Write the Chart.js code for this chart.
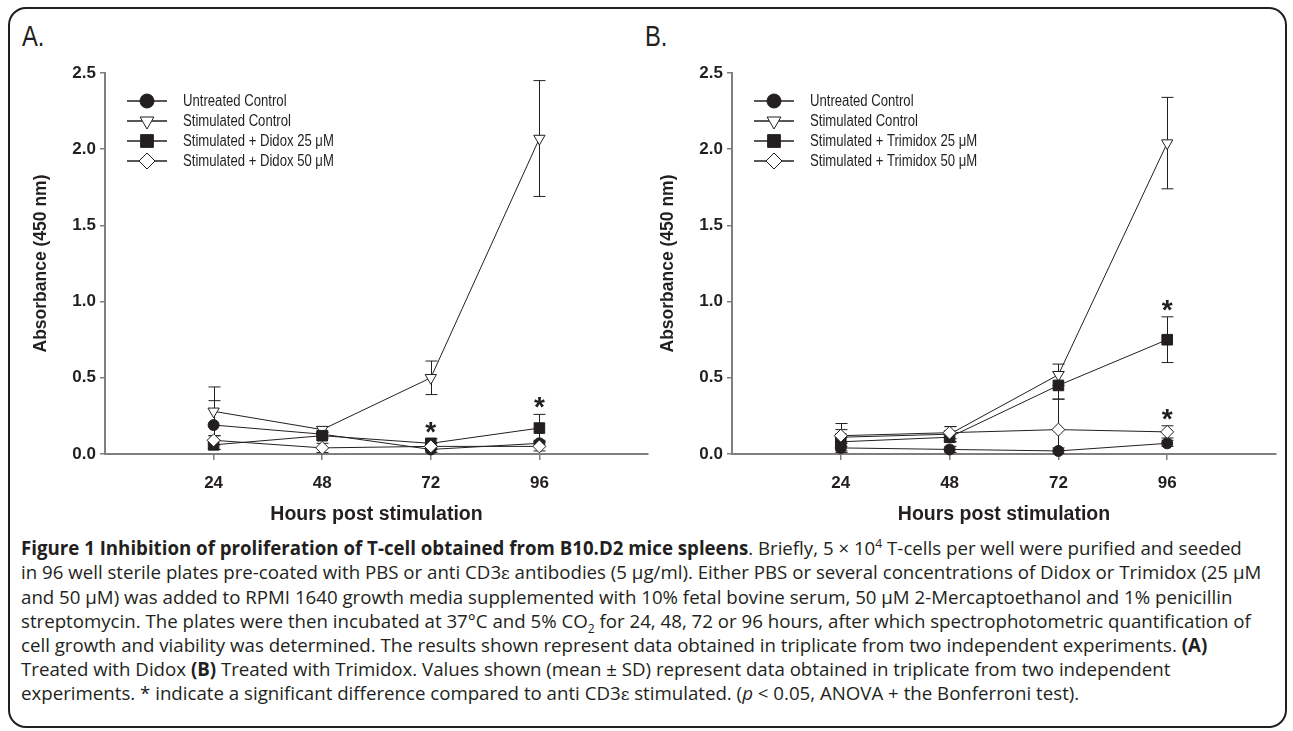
<!DOCTYPE html>
<html><head><meta charset="utf-8">
<script src="https://cdn.jsdelivr.net/npm/chart.js@4.4.1/dist/chart.umd.min.js"></script>
<style>
html,body{margin:0;padding:0;background:#fff;}
body{width:1293px;height:731px;position:relative;overflow:hidden;}
#frame{position:absolute;left:8px;top:7px;width:1279px;height:721px;border:2px solid #231f20;border-radius:18px;box-sizing:border-box;}
.plabel{position:absolute;top:20px;font-family:'Liberation Sans Narrow','Liberation Sans',sans-serif;font-size:29px;color:#231f20;line-height:32px;}
.wrap{position:absolute;}
#cap{position:absolute;left:21px;top:536px;font-family:'Open Sans',sans-serif;font-size:16px;line-height:24px;color:#231f20;white-space:nowrap;}
#cap sup,#cap sub{font-size:0.65em;line-height:0;}
#cap .eps{font-family:'DejaVu Serif',serif;font-size:0.9em;}
</style></head><body>
<div id="frame"></div>
<div class="plabel" style="left:22px">A.</div>
<div class="plabel" style="left:645px">B.</div>
<div class="wrap" style="left:0;top:40px;width:660px;height:494px"><canvas id="cA"></canvas></div>
<div class="wrap" style="left:627px;top:40px;width:661px;height:494px"><canvas id="cB"></canvas></div>
<div id="cap">
<div><b>Figure 1 Inhibition of proliferation of T-cell obtained from B10.D2 mice spleens</b>. Briefly, 5 × 10<sup>4</sup> T-cells per well were purified and seeded</div>
<div id="widest">in 96 well sterile plates pre-coated with PBS or anti CD3<span class="eps">ε</span> antibodies (5 μg/ml). Either PBS or several concentrations of Didox or Trimidox (25 μM</div>
<div>and 50 μM) was added to RPMI 1640 growth media supplemented with 10% fetal bovine serum, 50 μM 2-Mercaptoethanol and 1% penicillin</div>
<div>streptomycin. The plates were then incubated at 37°C and 5% CO<sub>2</sub> for 24, 48, 72 or 96 hours, after which spectrophotometric quantification of</div>
<div>cell growth and viability was determined. The results shown represent data obtained in triplicate from two independent experiments. <b>(A)</b></div>
<div>Treated with Didox <b>(B)</b> Treated with Trimidox. Values shown (mean ± SD) represent data obtained in triplicate from two independent</div>
<div>experiments. * indicate a significant difference compared to anti CD3<span class="eps">ε</span> stimulated. (<i>p</i> &lt; 0.05, ANOVA + the Bonferroni test).</div>
</div>
<script>
// ---------- data ----------
const hours = [24, 48, 72, 96];
const yTickValues = [0, 0.5, 1.0, 1.5, 2.0, 2.5];
const xLabel = 'Hours post stimulation';
const yLabel = 'Absorbance (450 nm)';

const namesA = ['Untreated Control', 'Stimulated Control', 'Stimulated + Didox 25 \u03bcM', 'Stimulated + Didox 50 \u03bcM'];
const A_untreated = [0.19, 0.13, 0.03, 0.07];
const A_stimulated = [0.28, 0.16, 0.50, 2.07];
const A_dose25 = [0.06, 0.12, 0.07, 0.17];
const A_dose50 = [0.09, 0.04, 0.05, 0.05];
const A_untreated_sd = [0.16, 0.02, 0.02, 0.02];
const A_stimulated_sd = [0.16, 0.02, 0.11, 0.38];
const A_dose25_sd = [0.03, 0.02, 0.03, 0.09];
const A_dose50_sd = [0.03, 0.03, 0.02, 0.03];
const A_significant = [[2, 72], [2, 96]]; // [series index, hour]

const namesB = ['Untreated Control', 'Stimulated Control', 'Stimulated + Trimidox 25 \u03bcM', 'Stimulated + Trimidox 50 \u03bcM'];
const B_untreated = [0.04, 0.03, 0.02, 0.07];
const B_stimulated = [0.11, 0.13, 0.52, 2.04];
const B_dose25 = [0.08, 0.11, 0.45, 0.75];
const B_dose50 = [0.12, 0.14, 0.16, 0.145];
const B_untreated_sd = [0.03, 0.02, 0.02, 0.02];
const B_stimulated_sd = [0.09, 0.05, 0.07, 0.30];
const B_dose25_sd = [0.03, 0.03, 0.09, 0.15];
const B_dose50_sd = [0.04, 0.04, 0.20, 0.04];
const B_significant = [[2, 96], [3, 96]];

// ---------- fonts / helpers ----------
function fontAvailable(name){
  const c = document.createElement('canvas').getContext('2d');
  c.font = '20px monospace'; const a = c.measureText('Stimulated Control 123').width;
  c.font = '20px "' + name + '", monospace'; const b = c.measureText('Stimulated Control 123').width;
  return Math.abs(a - b) > 0.5;
}
const hasNarrow = fontAvailable('Liberation Sans Narrow');
if (!hasNarrow) document.querySelectorAll('.plabel').forEach(e=>{e.style.fontFamily='Liberation Sans';e.style.transform='scaleX(0.82)';e.style.transformOrigin='left top';});

// fit caption width so the widest line spans ~1241px
(function(){
  const cap = document.getElementById('cap');
  const w = document.getElementById('widest');
  w.style.display='inline-block';
  const cur = w.getBoundingClientRect().width;
  const fs = 16 * 1241 / cur;
  cap.style.fontSize = fs.toFixed(2) + 'px';
  w.style.display='block';
})();

const INK = '#231f20';
const AXIS = '#7f7f7f';
const markerStyles = [
  {pointStyle: 'circle', radius: 5.5, bg: INK, rotation: 0},
  {pointStyle: 'triangle', radius: 6.5, bg: '#ffffff', rotation: 180},
  {pointStyle: 'rect', radius: 7.5, bg: INK, rotation: 0},
  {pointStyle: 'rectRot', radius: 6.5, bg: '#ffffff', rotation: 0}
];

const panelPlugin = {
  id: 'panelExtras',
  beforeDatasetsDraw(chart, args, opts) {
    const {ctx, chartArea, scales: {x, y}} = chart;
    ctx.save();
    ctx.beginPath();
    ctx.rect(chartArea.left, chartArea.top - 30, chartArea.width, chartArea.height + 30);
    ctx.clip();
    ctx.strokeStyle = INK; ctx.lineWidth = 1;
    opts.values.forEach((vals, i) => {
      vals.forEach((v, j) => {
        const s = opts.sds[i][j];
        const px = Math.round(x.getPixelForValue(hours[j])) + 0.5;
        const t = y.getPixelForValue(v + s), b = y.getPixelForValue(v - s);
        ctx.beginPath();
        ctx.moveTo(px, t); ctx.lineTo(px, b);
        ctx.moveTo(px - 6, t); ctx.lineTo(px + 6, t);
        ctx.moveTo(px - 6, b); ctx.lineTo(px + 6, b);
        ctx.stroke();
      });
    });
    ctx.restore();
  },
  afterDatasetsDraw(chart, args, opts) {
    const {ctx, chartArea, scales: {x, y}} = chart;
    ctx.save();
    // significance asterisks
    ctx.fillStyle = INK;
    ctx.font = 'bold 28px "Liberation Sans", Arial, sans-serif';
    ctx.textAlign = 'center'; ctx.textBaseline = 'alphabetic';
    opts.sig.forEach(([si, h]) => {
      const j = hours.indexOf(h);
      const top = opts.values[si][j] + opts.sds[si][j];
      ctx.fillText('*', x.getPixelForValue(h), y.getPixelForValue(top) + 2);
    });
    // legend
    const lx = chartArea.left + 22, rowH = 20, ly0 = chartArea.top + 28;
    opts.names.forEach((name, i) => {
      const yy = ly0 + i * rowH;
      ctx.strokeStyle = INK; ctx.lineWidth = 1.5;
      ctx.beginPath(); ctx.moveTo(lx, yy); ctx.lineTo(lx + 40, yy); ctx.stroke();
      const m = markerStyles[i];
      ctx.fillStyle = m.bg; ctx.strokeStyle = INK; ctx.lineWidth = 1;
      Chart.helpers.drawPoint(ctx, {pointStyle: m.pointStyle, rotation: m.rotation, radius: m.radius + 1.5, borderWidth: 1}, lx + 20, yy);
      ctx.fillStyle = INK;
      ctx.textAlign = 'left'; ctx.textBaseline = 'middle';
      if (hasNarrow) {
        ctx.font = '16px "Liberation Sans Narrow", sans-serif';
        ctx.fillText(name, lx + 56, yy + 1);
      } else {
        ctx.save();
        ctx.translate(lx + 56, yy + 1); ctx.scale(0.82, 1);
        ctx.font = '16px "Liberation Sans", sans-serif';
        ctx.fillText(name, 0, 0);
        ctx.restore();
      }
    });
    ctx.restore();
  }
};

function buildPanel(id, names, values, sds, sig) {
  const datasets = values.map((vals, i) => ({
    label: names[i],
    data: vals.map((v, j) => ({x: hours[j], y: v})),
    borderColor: INK,
    borderWidth: 1,
    backgroundColor: markerStyles[i].bg,
    pointStyle: markerStyles[i].pointStyle,
    pointRotation: markerStyles[i].rotation,
    pointRadius: markerStyles[i].radius,
    pointHoverRadius: markerStyles[i].radius,
    pointBorderColor: INK,
    pointBackgroundColor: markerStyles[i].bg,
    pointBorderWidth: 1,
    tension: 0,
    fill: false,
    clip: false,
    order: values.length - i
  }));
  const tickFont = {family: '"Liberation Sans", Arial, sans-serif', size: 17, weight: 'bold'};
  const xTitleFont = {family: '"Liberation Sans", Arial, sans-serif', size: 19.5, weight: 'bold'};
  return new Chart(document.getElementById(id), {
    type: 'line',
    data: {datasets},
    plugins: [panelPlugin],
    options: {
      responsive: true, maintainAspectRatio: false, animation: false,
      layout: {padding: {top: 33, right: 12, left: 0, bottom: 0}},
      plugins: {
        legend: {display: false}, tooltip: {enabled: false},
        panelExtras: {values, sds, sig, names}
      },
      scales: {
        x: {
          type: 'linear', min: 0, max: 120,
          afterBuildTicks: s => { s.ticks = hours.map(v => ({value: v})); },
          afterFit: s => { s.height = 80; },
          grid: {display: true, drawOnChartArea: false, drawTicks: true, tickLength: 6, color: AXIS, lineWidth: 1.5},
          border: {display: true, color: AXIS, width: 2},
          ticks: {color: INK, font: tickFont, padding: 13, maxRotation: 0, autoSkip: false},
          title: {display: true, text: xLabel, color: INK, font: xTitleFont, padding: {top: 0, bottom: 8}}
        },
        y: {
          type: 'linear', min: 0, max: 2.5,
          afterBuildTicks: s => { s.ticks = yTickValues.map(v => ({value: v})); },
          afterFit: s => { s.width = 105; },
          grid: {display: true, drawOnChartArea: false, drawTicks: true, tickLength: 5, color: AXIS, lineWidth: 1.5},
          border: {display: true, color: AXIS, width: 2},
          ticks: {color: INK, font: tickFont, padding: 4, callback: v => v.toFixed(1)},
          title: {display: true, text: yLabel, color: INK, font: {family: '"Liberation Sans", Arial, sans-serif', size: 17.5, weight: 'bold'}, padding: {top: 31, bottom: 0}}
        }
      }
    }
  });
}

buildPanel('cA', namesA,
  [A_untreated, A_stimulated, A_dose25, A_dose50],
  [A_untreated_sd, A_stimulated_sd, A_dose25_sd, A_dose50_sd], A_significant);
buildPanel('cB', namesB,
  [B_untreated, B_stimulated, B_dose25, B_dose50],
  [B_untreated_sd, B_stimulated_sd, B_dose25_sd, B_dose50_sd], B_significant);
</script>
</body></html>
